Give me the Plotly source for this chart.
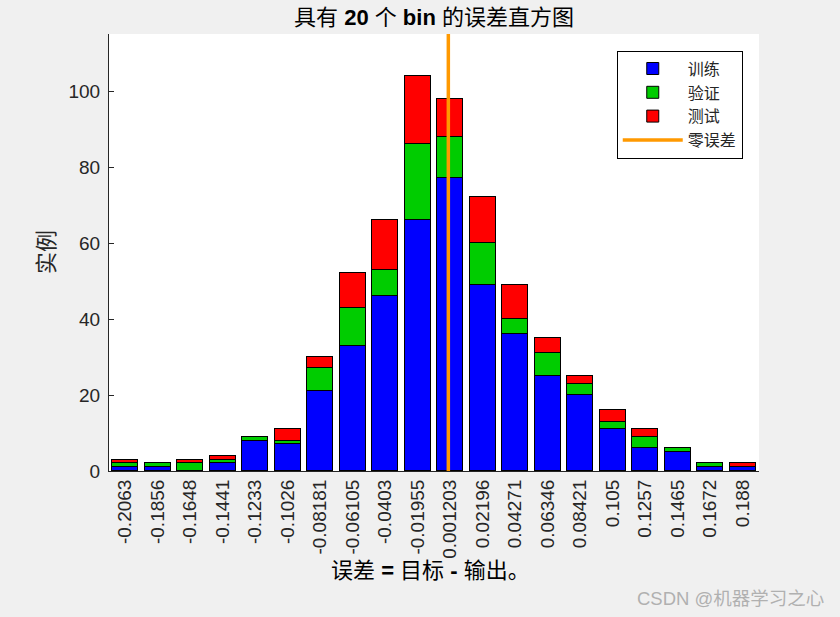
import plotly.graph_objects as go

# ---- data ----
bin_labels = ["-0.2063", "-0.1856", "-0.1648", "-0.1441", "-0.1233", "-0.1026",
              "-0.08181", "-0.06105", "-0.0403", "-0.01955", "0.001203", "0.02196",
              "0.04271", "0.06346", "0.08421", "0.105", "0.1257", "0.1465",
              "0.1672", "0.188"]
train_counts = [1, 1, 0, 2, 8, 7, 21, 33, 46, 66, 77, 49, 36, 25, 20, 11, 6, 5, 1, 1]
val_counts = [1, 1, 2, 1, 1, 1, 6, 10, 7, 20, 11, 11, 4, 6, 3, 2, 3, 1, 1, 0]
test_counts = [1, 0, 1, 1, 0, 3, 3, 9, 13, 18, 10, 12, 9, 4, 2, 3, 2, 0, 0, 1]
zero_error = 0.0
y_ticks = [0, 20, 40, 60, 80, 100]

centers = [float(s) for s in bin_labels]
n = len(centers)
step = (centers[-1] - centers[0]) / (n - 1)
y_max = 115

CJK = "Liberation Sans, Arial, Noto Sans CJK SC, sans-serif"
edge = dict(color="black", width=1)

fig = go.Figure()
fig.add_trace(go.Bar(x=centers, y=train_counts, name="训练", width=0.8 * step,
                     marker=dict(color="#0000ff", line=edge)))
fig.add_trace(go.Bar(x=centers, y=val_counts, name="验证", width=0.8 * step,
                     marker=dict(color="#00cc00", line=edge)))
fig.add_trace(go.Bar(x=centers, y=test_counts, name="测试", width=0.8 * step,
                     marker=dict(color="#ff0000", line=edge)))
fig.add_trace(go.Scatter(x=[zero_error, zero_error], y=[0, y_max], mode="lines",
                         name="零误差", line=dict(color="#ff9900", width=3.5)))

fig.update_layout(
    width=840, height=617,
    barmode="stack", bargap=0,
    paper_bgcolor="#f0f0f0", plot_bgcolor="white",
    margin=dict(l=109, r=81, t=34, b=146),
    title=dict(text="具有 <b>20</b> 个 <b>bin</b> 的误差直方图",
               x=0.5, xref="paper", xanchor="center",
               y=1 - 17 / 617, yref="container", yanchor="middle",
               font=dict(family=CJK, size=22, color="black")),
    xaxis=dict(range=[centers[0] - step / 2, centers[-1] + step / 2],
               tickmode="array", tickvals=centers, ticktext=bin_labels,
               tickangle=-90, ticks="", showline=True, linecolor="#262626",
               linewidth=1, showgrid=False, zeroline=False,
               tickfont=dict(family="Liberation Sans, Arial", size=19, color="#262626")),
    yaxis=dict(range=[0, y_max], tickmode="array", tickvals=y_ticks,
               ticks="inside", ticklen=5, tickcolor="#262626",
               ticklabelstandoff=4,
               showline=True, linecolor="#262626", linewidth=1,
               showgrid=False, zeroline=False,
               tickfont=dict(family="Liberation Sans, Arial", size=19, color="#262626")),
    legend=dict(x=0.975, xanchor="right", y=0.962, yanchor="top",
                bgcolor="white", bordercolor="black", borderwidth=1,
                itemwidth=60, traceorder="normal",
                font=dict(family=CJK, size=16, color="#262626")),
    showlegend=True,
)

fig.add_annotation(text="误差 <b>=</b> 目标 <b>-</b> 输出。", xref="paper", yref="paper",
                   x=(430 - 109) / 650, y=-(570 - 471) / 437, xanchor="center",
                   yanchor="middle", showarrow=False,
                   font=dict(family=CJK, size=22, color="black"))
fig.add_annotation(text="实例", xref="paper", yref="paper",
                   x=(47 - 109) / 650, y=(471 - 252) / 437, xanchor="center",
                   yanchor="middle", textangle=-90, showarrow=False,
                   font=dict(family=CJK, size=22, color="#262626"))
fig.add_annotation(text="CSDN @机器学习之心", xref="paper", yref="paper",
                   x=(826 - 109) / 650, y=-(598 - 471) / 437, xanchor="right",
                   yanchor="middle", showarrow=False,
                   font=dict(family=CJK, size=18.5, color="#b0b0b0"))

fig.write_html("out.html")
